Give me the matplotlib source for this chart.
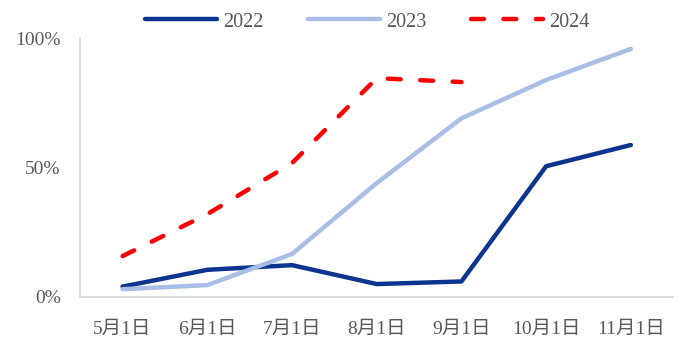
import matplotlib.pyplot as plt
from matplotlib.ticker import PercentFormatter

plt.rcParams["font.family"] = ["Liberation Serif", "Noto Sans CJK SC"]

months = ["5月1日", "6月1日", "7月1日", "8月1日", "9月1日", "10月1日", "11月1日"]
y2022 = [0.04, 0.105, 0.123, 0.05, 0.06, 0.505, 0.587]
y2023 = [0.03, 0.046, 0.166, 0.44, 0.69, 0.838, 0.958]
y2024 = [0.158, 0.32, 0.517, 0.845, 0.83]

fig = plt.figure(figsize=(6.8, 3.49), dpi=100)
ax = fig.add_axes([0.118, 0.149, 0.872, 0.742])

x = [i + 0.5 for i in range(len(months))]
ax.plot(x, y2022, color="#0D3590", linewidth=3.2, label="2022", solid_capstyle="round")
ax.plot(x, y2023, color="#A9BEE6", linewidth=3.2, label="2023", solid_capstyle="round")
ax.plot(x[:len(y2024)], y2024, color="#FF0000", linewidth=3.2, linestyle=(0, (2.9, 4.4)),
        label="2024", dash_capstyle="round")

ax.set_xlim(0, len(months))
ax.set_ylim(0, 1)
ax.set_xticks(x)
ax.set_xticklabels(months)
ax.set_yticks([0, 0.5, 1])
ax.yaxis.set_major_formatter(PercentFormatter(1.0, decimals=0))
ax.tick_params(length=0, labelsize=14, colors="#595959")
ax.tick_params(axis="x", pad=17)
ax.tick_params(axis="y", pad=14)

for side in ["top", "right"]:
    ax.spines[side].set_visible(False)
for side in ["left", "bottom"]:
    ax.spines[side].set_color("#D9D9D9")
    ax.spines[side].set_linewidth(1.2)

fig.legend(loc="center", bbox_to_anchor=(0.54, 0.937), ncol=3, frameon=False,
           handlelength=3.6, columnspacing=2.2, handletextpad=0.3,
           prop={"size": 14.5}, labelcolor="#595959")

fig.savefig("out.png", dpi=100)
